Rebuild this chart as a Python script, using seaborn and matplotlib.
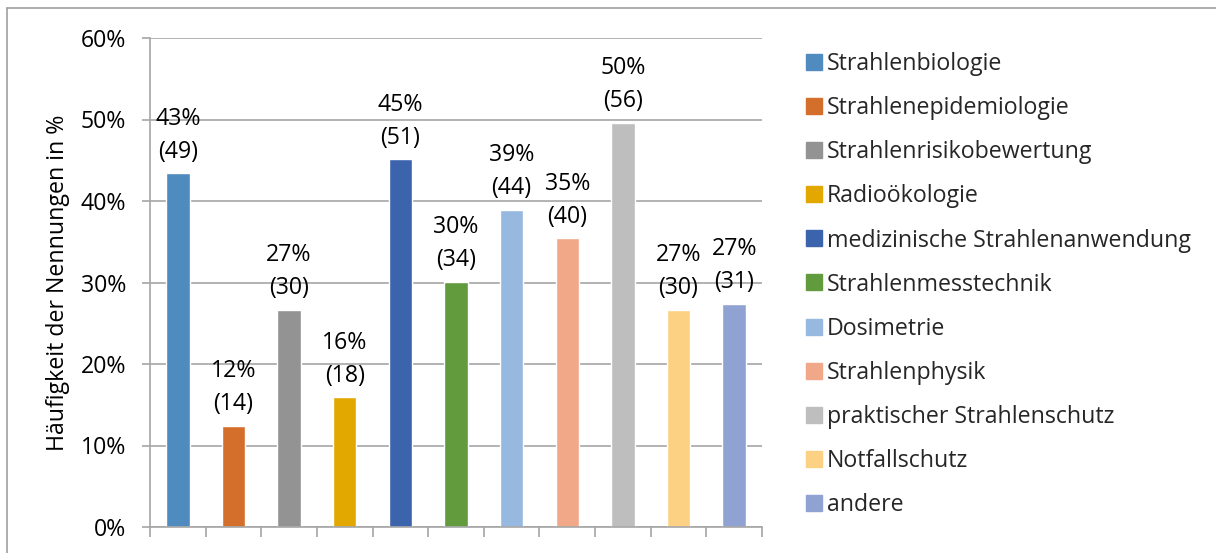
import matplotlib
matplotlib.use("Agg")
import matplotlib.pyplot as plt
from matplotlib.lines import Line2D
from matplotlib.ticker import FixedLocator, PercentFormatter
import seaborn as sns
import pandas as pd

# Fachgebiete, Anteil der Nennungen (%) und absolute Nennungen
categories = [
    "Strahlenbiologie",
    "Strahlenepidemiologie",
    "Strahlenrisikobewertung",
    "Radioökologie",
    "medizinische Strahlenanwendung",
    "Strahlenmesstechnik",
    "Dosimetrie",
    "Strahlenphysik",
    "praktischer Strahlenschutz",
    "Notfallschutz",
    "andere",
]
percent = [43.4, 12.4, 26.6, 15.9, 45.1, 30.1, 38.9, 35.4, 49.6, 26.6, 27.4]
counts = [49, 14, 30, 18, 51, 34, 44, 40, 56, 30, 31]
colors = [
    "#4f8bbf", "#d46f2b", "#939393", "#e2a800", "#3c64ad", "#629a3e",
    "#97b8df", "#f1a889", "#bebebe", "#fdd183", "#8fa2d2",
]
y_ticks = [0, 10, 20, 30, 40, 50, 60]

df = pd.DataFrame({"Fachgebiet": categories, "Anteil": percent, "Anzahl": counts})

sns.set_theme(style="white")
plt.rcParams["font.family"] = ["Open Sans", "DejaVu Sans"]

FS = 16.7

fig = plt.figure(figsize=(12.16, 5.53), dpi=100)
ax = fig.add_axes([150 / 1216, 1 - 527 / 553, (762 - 150) / 1216, (527 - 38) / 553])

sns.barplot(
    data=df, x="Fachgebiet", y="Anteil", hue="Fachgebiet",
    palette=colors, width=0.42, legend=False, ax=ax, saturation=1,
)

grid_color = "#a6a6a6"
ax.set_ylim(0, 60)
ax.set_xlim(-0.5, len(categories) - 0.5)
ax.yaxis.set_major_locator(FixedLocator(y_ticks))
ax.yaxis.set_major_formatter(PercentFormatter(decimals=0))
ax.grid(axis="y", color=grid_color, linewidth=1.2)
ax.set_axisbelow(True)

# x ticks sit on the category boundaries, without labels
ax.set_xticks([i - 0.5 for i in range(len(categories) + 1)])
ax.set_xticklabels([])
ax.tick_params(axis="x", length=7, width=1.2, color=grid_color, direction="out", bottom=True)
ax.tick_params(axis="y", length=6, width=1.2, color=grid_color, direction="out", left=True,
               labelsize=FS, pad=11, labelcolor="#000000")

for side in ["top", "right"]:
    ax.spines[side].set_visible(False)
for side in ["left", "bottom"]:
    ax.spines[side].set_color(grid_color)
    ax.spines[side].set_linewidth(1.2)

ax.set_xlabel("")
ax.set_ylabel("Häufigkeit der Nennungen in %", fontsize=FS, color="#000000", labelpad=8)

# value labels: rounded percent and count above each bar
for i, (p, n) in enumerate(zip(percent, counts)):
    ax.annotate(
        f"{round(p)}%\n({n})", xy=(i, p), xytext=(0, 7), textcoords="offset points",
        ha="center", va="bottom", fontsize=FS, linespacing=1.5, color="#000000",
    )

handles = [
    Line2D([0], [0], marker="s", linestyle="none", markersize=11,
           markerfacecolor=c, markeredgecolor=c)
    for c in colors
]
fig.legend(
    handles, categories, loc="upper left", bbox_to_anchor=(797 / 1216, 1 - 43 / 553),
    frameon=False, fontsize=FS, handlelength=0.7, handletextpad=0.2,
    labelspacing=0.865, borderaxespad=0,
)

# outer chart frame
frame_color = "#a0a0a0"
fig.add_artist(Line2D([7 / 1216, 1], [1 - 8 / 553, 1 - 8 / 553], color=frame_color, linewidth=1.2))
fig.add_artist(Line2D([7 / 1216, 7 / 1216], [0, 1 - 8 / 553], color=frame_color, linewidth=1.2))

fig.savefig("out.png", dpi=100, facecolor="white")
